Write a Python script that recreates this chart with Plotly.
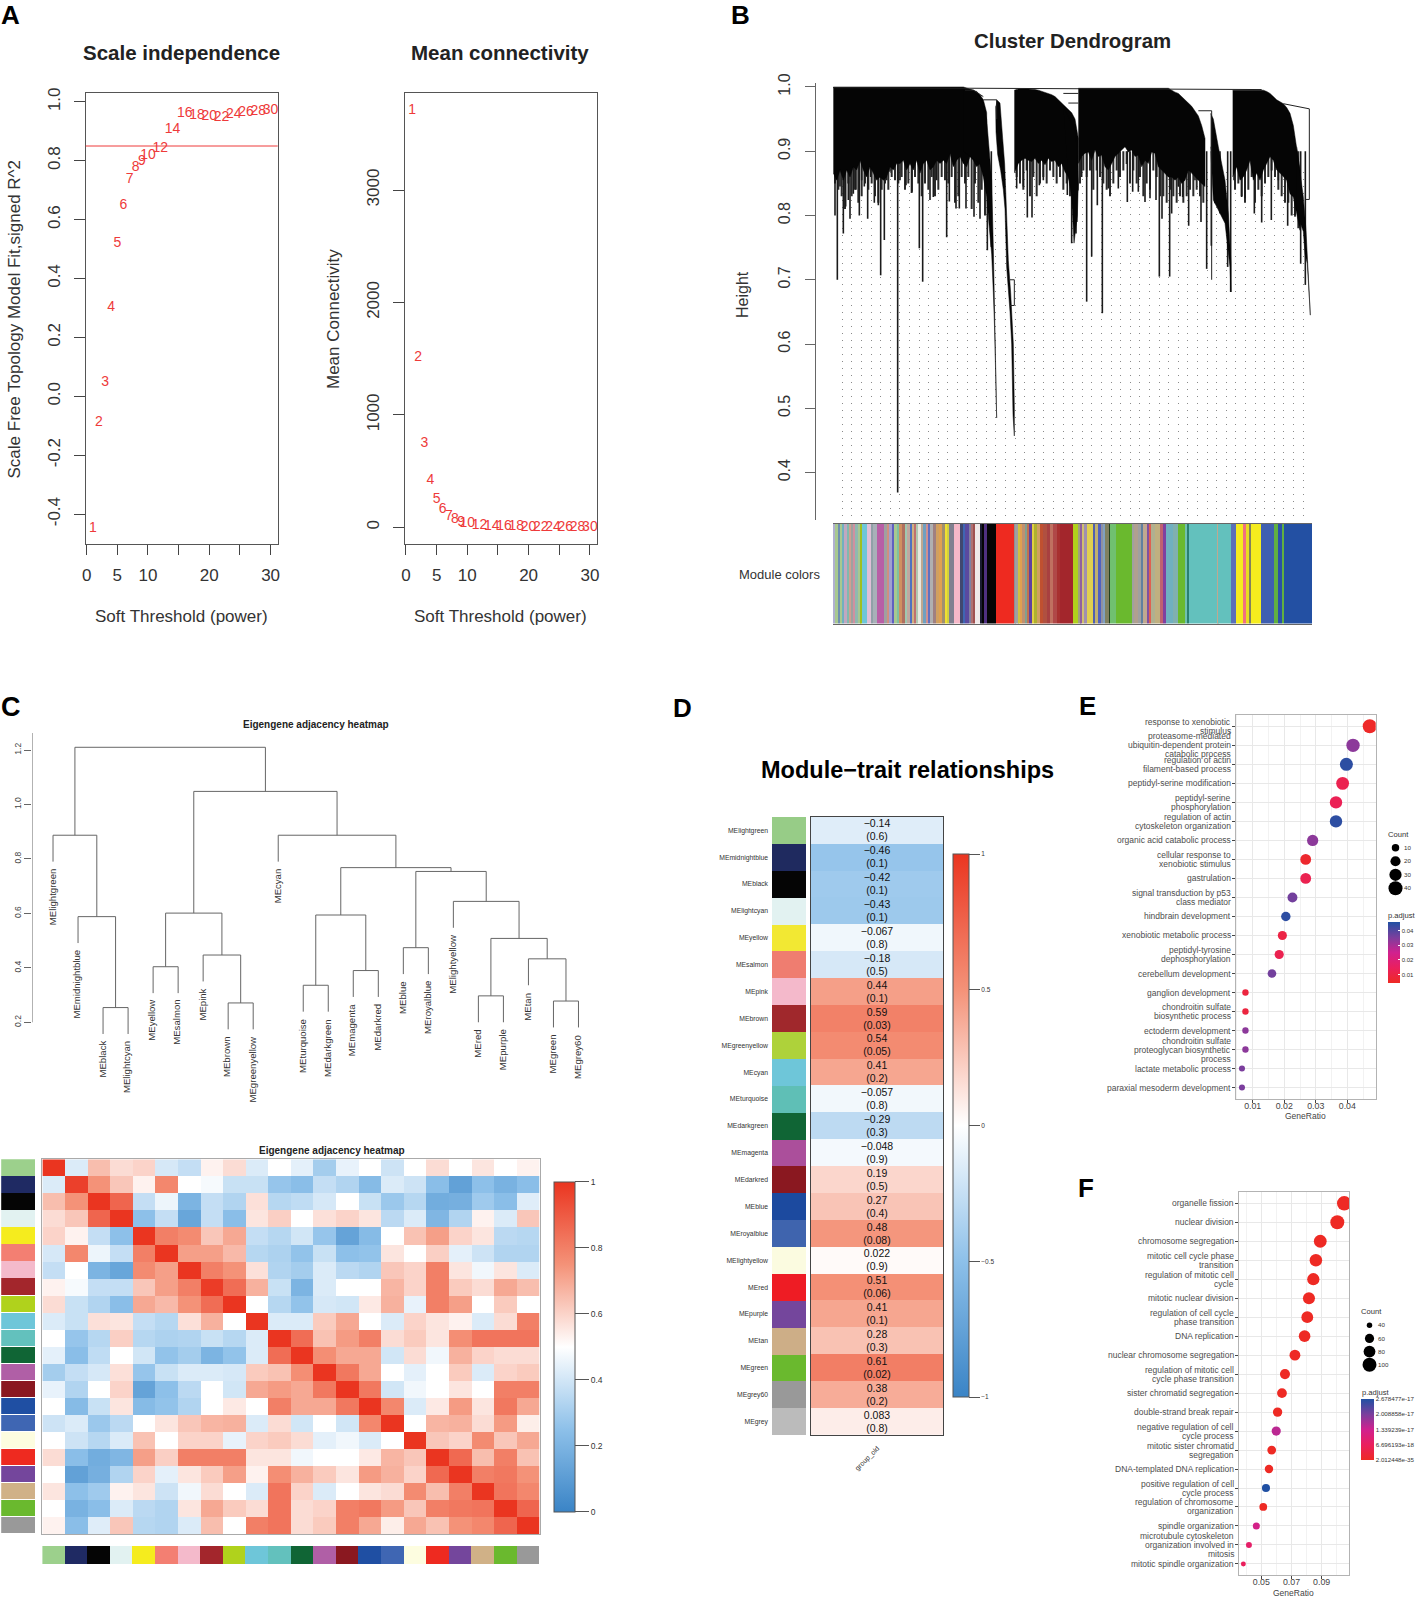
import math
import plotly.graph_objects as go

W, H = 1418, 1598
FONT = "Liberation Sans, Arial, sans-serif"

# ---------- Panel A ----------
powers = [1,2,3,4,5,6,7,8,9,10,12,14,16,18,20,22,24,26,28,30]
sft_fit = [-0.45,-0.09,0.046,0.30,0.52,0.648,0.735,0.777,0.797,0.817,0.842,0.907,0.962,0.953,0.949,0.948,0.956,0.963,0.966,0.969]
mean_conn = [3708,1509,742,413,250,155,96,70,48,33,20,10,6,4,3,2,1.5,1,1,1]
power_ticks = [0,5,10,15,20,25,30]
power_ticktext = ["0","5","10","","20","","30"]

# ---------- Panel B ----------
c1_pos = [10,20,30,40,50,60,70,80,90,100,110,120,130,140,150,160,170,180,190,200,210,220,230,240,250,260,270,280,290,300,310,320,330,340,350,360,370,380,390,400,410,420,430,440,450,460,470]
c1_low = [.866,.855,.871,.855,.871,.860,.876,.871,.886,.871,.860,.876,.866,.855,.860,.855,.860,.876,.871,.881,.881,.886,.871,.881,.871,.886,.866,.881,.886,.871,.876,.886,.881,.886,.881,.897,.876,.886,.892,.881,.876,.892,.886,.876,.881,.866,.845]
c1_top = [1.0]*40 + [.998,.997,.995,.993,.988,.98,.96]
c2_pos = [553,565,575,585,595,605,615,625,635,645,655,665,675,685,695,705,715,725,735,745]
c2_low = [.866,.881,.886,.889,.886,.884,.889,.881,.886,.879,.889,.884,.886,.876,.881,.868,.860,.84,.829,.84]
c2_top = [.995,.997,.997,.997,.997,.997,.996,.995,.994,.992,.99,.988,.985,.98,.975,.97,.965,.96,.95,.92]
c3_pos = [745,755,765,775,785,795,805,815,825,835,845,855,865,875,885,895,905,915,925,935,945,955,965,975,985,995,1005,1015,1025,1035,1045,1055,1065,1075,1085,1095,1105,1115,1125]
c3_low = [.881,.892,.897,.899,.886,.902,.892,.894,.876,.871,.881,.892,.897,.902,.907,.899,.902,.892,.894,.876,.886,.881,.899,.897,.876,.871,.866,.860,.860,.855,.860,.85,.855,.871,.866,.860,.855,.85,.845]
c3_top = [.998]*28 + [.995,.992,.99,.985,.98,.975,.97,.962,.955,.94,.92]
c4_pos = [1208,1220,1230,1240,1250,1260,1270,1280,1290,1300,1310,1320,1330,1340,1350,1360,1370,1380,1390,1400,1410]
c4_low = [.860,.876,.855,.860,.871,.886,.855,.866,.855,.871,.881,.892,.886,.871,.866,.860,.855,.834,.829,.803,.777]
c4_top = [.995]*10 + [.993,.99,.985,.98,.977,.974,.968,.959,.94,.907,.87]
tail1_pos = [400,430,450,462,470,478,485,490,494,497,499,500,500,497,494,490,485,478,470,460,450,400]
tail1_h = [.998,.995,.985,.97,.95,.905,.855,.75,.66,.6,.53,.485,.485,.55,.62,.68,.74,.78,.83,.86,.88,.90]
tail2_pos = [500,510,518,524,530,535,542,550,553,553,549,545,540,530,525,520,512,503,498,497]
tail2_h = [.98,.975,.92,.88,.80,.73,.68,.60,.5,.457,.49,.6,.65,.72,.81,.84,.87,.895,.93,.97]
tail3_pos = [700,720,738,745,742,732,728,725,715]
tail3_h = [.97,.95,.93,.85,.80,.757,.80,.83,.86]
tail4_pos = [1142,1150,1165,1185,1195,1203,1203,1200,1185,1165,1150,1142]
tail4_h = [.959,.95,.907,.855,.803,.725,.681,.72,.788,.808,.824,.907]
tail5_pos = [1400,1410,1420,1428,1435,1440,1441,1436,1432,1425,1420,1410,1400]
tail5_h = [.907,.87,.829,.777,.7,.65,.645,.68,.725,.74,.775,.79,.81]
stem_pos = [15,22,30,40,47,55,60,70,78,88,95,103,113,122,133,145,152,163,170,180,203,210,228,246,268,278,300,310,320,350,358,378,388,408,432,450,472,484,560,580,592,606,628,640,712,725,738,755,770,785,802,817,835,865,892,908,925,945,960,978,988,996,1019,1025,1045,1058,1076,1095,1113,1130,1144,1155,1170,1193,1202,1212,1235,1245,1273,1295,1324,1345,1373,1395,1412,1426]
stem_low = [.80,.70,.845,.772,.814,.824,.795,.834,.84,.80,.855,.845,.795,.86,.82,.816,.707,.762,.855,.868,.369,.855,.847,.837,.749,.697,.824,.829,.855,.766,.822,.811,.811,.811,.798,.795,.746,.751,.842,.845,.797,.797,.847,.855,.832,.757,.772,.86,.666,.736,.816,.648,.842,.842,.821,.837,.837,.821,.827,.824,.705,.795,.705,.803,.845,.829,.784,.855,.79,.717,.753,.819,.803,.72,.681,.855,.829,.827,.803,.789,.793,.855,.784,.798,.725,.692]
fringe1_start, fringe2_start, fringe3_start, fringe4_start = 15, 560, 750, 1215
fringe1_low = [.85,.84,.83,.81,.85,.83,.84,.82,.83,.85,.84,.85,.83,.82,.84,.85,.84,.86,.855,.85,.86,.84,.85,.835,.86,.85,.83,.85,.84,.86,.83,.84,.86,.855,.85,.86,.82,.83,.86,.85,.86,.81,.85,.82,.84,.80]
fringe2_low = [.86,.85,.84,.87,.83,.86,.83,.85,.86,.85,.87,.86,.85,.86,.84,.85,.83,.81,.79]
fringe3_low = [.85,.87,.86,.87,.84,.87,.86,.85,.84,.83,.85,.87,.86,.87,.88,.85,.87,.85,.86,.83,.85,.84,.87,.86,.83,.83,.82,.84,.83,.82,.83,.82,.83,.84,.83,.84,.83,.82]
fringe4_low = [.84,.85,.83,.82,.84,.86,.82,.84,.83,.85,.86,.87,.86,.84,.83,.82,.82,.80,.80,.78]
link_segments_pos = [[9,1295],[405,430,460],[460,500,500],[700,745],[715,745],[1105,1145,1145],[1360,1438,1438,1428],[540,553,553,540]]
link_segments_h = [[.999,.996],[.995,.995,.985],[.98,.98,.95],[.99,.99],[.975,.975],[.963,.963,.70],[.974,.966,.825,.825],[.70,.70,.66,.66]]
strip_ends = [14,24,30,37,43,50,56,63,70,76,84,92,97,112,122,128,140,162,170,178,185,192,200,208,216,224,232,240,246,252,258,264,272,280,288,294,300,310,318,326,336,344,352,358,372,390,398,406,416,422,430,436,450,456,462,471,498,552,556,566,570,576,584,592,598,606,612,620,630,640,650,660,668,680,690,730,745,752,756,762,770,790,796,805,812,820,826,838,840,858,905,912,925,935,940,950,957,963,975,990,1000,1008,1030,1045,1065,1072,1077,1163,1165,1203,1217,1240,1247,1257,1262,1293,1332,1345,1355,1362,1446]
strip_colors = ["#b0b0d0","#a8c890","#6f8fb0","#a8c890","#70b0c0","#c0a8c0","#80b8b0","#d0a090","#a0a0a0","#d090a0","#90b8b0","#a8c890","#a0c020","#6ec6d9","#e0c0d8","#90a0a8","#a8b0b8","#b85fa6","#a0a0a0","#d09080","#a0a0d0","#6060c0","#a8c890","#80c0a0","#d09060","#b07060","#a0c8b0","#c0a8a0","#5070c0","#d0b080","#c07070","#b0c8b0","#e8e8e0","#c0a890","#70a0c0","#d09090","#6070c0","#b0b0b0","#a08080","#d0a060","#e0a050","#a09070","#f0e030","#d0d040","#808090","#f6b8c8","#404870","#3f66b3","#5a4aa0","#8080a0","#b07070","#a05050","#f0e8e8","#1a1a30","#050505","#503080","#050505","#ee2a20","#909090","#a0a0a0","#d0c040","#e0a050","#c09070","#80a090","#c07050","#6040a0","#e0d040","#b0b030","#d0a060","#c05030","#b05040","#a84040","#c07060","#b04848","#a83030","#a3262c","#b0d21c","#a0a080","#9060a0","#d0c070","#a090b0","#e0d050","#5060b0","#c0b070","#5060c0","#9090a0","#80a0c0","#808060","#204020","#70c070","#6ab92e","#a0a0a0","#b0a090","#a0a0a0","#6080a0","#c0a890","#8050a0","#e06050","#b0b090","#c0b080","#c06070","#8040a0","#70b0c0","#80b0b0","#6ab92e","#70c0b0","#2a8070","#63c1bd","#c0a890","#63c1bd","#5a70b8","#f5ec1e","#f07080","#e8dc20","#808060","#f5ec1e","#3f5fb0","#60b040","#2a50a8","#60b040","#2350a3"]

# ---------- Panel C ----------
c_modules = ["MElightgreen","MEmidnightblue","MEblack","MElightcyan","MEyellow","MEsalmon","MEpink","MEbrown","MEgreenyellow","MEcyan","MEturquoise","MEdarkgreen","MEmagenta","MEdarkred","MEblue","MEroyalblue","MElightyellow","MEred","MEpurple","MEtan","MEgreen","MEgrey60"]
c_colors = ["#9cd08c","#1f2a63","#050505","#e2f2f1","#f5ec1e","#f37f72","#f4bacb","#a3262c","#b0d21c","#6ec6d9","#63c1bd","#106535","#b05fa6","#8a1820","#1f4fa3","#3f66b3","#fdfde0","#ee2a20","#74469c","#d0b187","#6ab92e","#999999"]
merge_left = [-3,-2,-1,-5,-8,-7,4,-11,-13,8,-15,-18,-21,-20,12,-17,11,10,-10,7,3]
merge_right = [-4,1,2,-6,-9,5,6,-12,-14,9,-16,-19,-22,13,14,15,16,17,18,19,20]
merge_height = [.254,.588,.887,.404,.271,.447,.601,.336,.390,.594,.474,.297,.278,.433,.508,.644,.754,.768,.887,1.048,1.21]
leaf_drop = 0.097
adj_rows = [
[1,.42,.65,.58,.6,.41,.37,.53,.58,.42,.5,.44,.3,.45,.5,.39,.5,.58,.5,.56,.5,.53],
[.42,.97,.75,.63,.53,.78,.5,.48,.38,.38,.27,.24,.37,.33,.23,.42,.39,.24,.12,.25,.19,.24],
[.65,.75,1,.87,.37,.46,.2,.37,.33,.57,.34,.36,.41,.5,.38,.28,.34,.17,.18,.29,.24,.43],
[.58,.63,.87,1,.25,.37,.14,.37,.24,.56,.61,.5,.57,.6,.56,.35,.42,.21,.33,.53,.42,.63],
[.6,.53,.37,.25,1,.8,.77,.63,.7,.37,.34,.4,.27,.13,.23,.5,.64,.72,.6,.56,.35,.34],
[.41,.78,.46,.37,.8,1,.72,.72,.66,.34,.32,.26,.38,.25,.26,.56,.5,.61,.44,.39,.33,.33],
[.37,.5,.2,.14,.77,.72,1,.8,.75,.57,.33,.3,.42,.35,.33,.63,.6,.8,.56,.47,.56,.42],
[.53,.48,.37,.37,.63,.72,.8,.98,.85,.68,.38,.2,.42,.5,.5,.67,.6,.8,.62,.58,.7,.65],
[.58,.38,.33,.24,.7,.66,.75,.85,1,.5,.34,.26,.41,.4,.55,.68,.45,.8,.72,.5,.62,.5],
[.42,.38,.57,.56,.37,.34,.57,.68,.5,1,.42,.42,.62,.7,.5,.42,.6,.56,.53,.42,.58,.8],
[.5,.27,.34,.61,.34,.32,.33,.38,.34,.42,1,.85,.64,.73,.8,.58,.62,.56,.76,.83,.83,.83],
[.44,.24,.36,.5,.4,.26,.3,.2,.26,.42,.85,1,.76,.7,.7,.4,.58,.47,.68,.6,.58,.58],
[.3,.37,.41,.57,.27,.38,.42,.42,.41,.62,.64,.76,1,.82,.7,.5,.44,.5,.62,.42,.6,.62],
[.45,.33,.5,.6,.13,.25,.35,.5,.4,.7,.73,.7,.82,1,.82,.4,.47,.5,.56,.5,.8,.8],
[.5,.23,.38,.56,.23,.26,.33,.5,.55,.5,.8,.7,.7,.82,1,.78,.42,.55,.73,.56,.82,.7],
[.39,.42,.28,.35,.5,.56,.63,.67,.68,.42,.58,.4,.5,.4,.78,1,.5,.67,.68,.58,.73,.54],
[.5,.39,.34,.42,.64,.5,.6,.6,.45,.6,.62,.58,.44,.47,.42,.5,1,.63,.6,.77,.63,.7],
[.58,.24,.17,.21,.72,.61,.8,.8,.8,.56,.56,.47,.5,.5,.55,.67,.63,1,.86,.65,.8,.64],
[.5,.12,.18,.33,.6,.44,.56,.62,.72,.53,.76,.68,.62,.56,.73,.68,.6,.86,1,.8,.82,.75],
[.56,.25,.29,.53,.56,.39,.47,.58,.5,.42,.83,.6,.42,.5,.56,.58,.77,.65,.8,1,.83,.78],
[.5,.19,.24,.42,.35,.33,.56,.7,.62,.58,.83,.58,.6,.8,.82,.73,.63,.8,.82,.83,1,.87],
[.53,.24,.43,.63,.34,.33,.42,.65,.5,.8,.83,.58,.62,.8,.7,.54,.7,.64,.75,.78,.87,1],
]

# ---------- Panel D ----------
d_modules = c_modules + ["MEgrey"]
d_colors = ["#97cc87","#1f2a5f","#050505","#e2f2f1","#f2e833","#ef7d70","#f4b9cb","#a0282c","#aed23a","#6ec6d9","#5fbfb6","#106535","#ab4f9b","#8a1820","#1c4a9f","#3f64ae","#fbfbe0","#ee1c24","#74469c","#cdae87","#6ab92e","#999999","#bbbbbb"]
trait_values = [-0.14,-0.46,-0.42,-0.43,-0.067,-0.18,0.44,0.59,0.54,0.41,-0.057,-0.29,-0.048,0.19,0.27,0.48,0.022,0.51,0.41,0.28,0.61,0.38,0.083]
trait_pvalues = ["0.6","0.1","0.1","0.1","0.8","0.5","0.1","0.03","0.05","0.2","0.8","0.3","0.9","0.5","0.4","0.08","0.9","0.06","0.1","0.3","0.02","0.2","0.8"]

# ---------- Panel E ----------
e_terms = ["response to xenobiotic\nstimulus","proteasome-mediated\nubiquitin-dependent protein\ncatabolic process","regulation of actin\nfilament-based process","peptidyl-serine modification","peptidyl-serine\nphosphorylation","regulation of actin\ncytoskeleton organization","organic acid catabolic process","cellular response to\nxenobiotic stimulus","gastrulation","signal transduction by p53\nclass mediator","hindbrain development","xenobiotic metabolic process","peptidyl-tyrosine\ndephosphorylation","cerebellum development","ganglion development","chondroitin sulfate\nbiosynthetic process","ectoderm development","chondroitin sulfate\nproteoglycan biosynthetic\nprocess","lactate metabolic process","paraxial mesoderm development"]
e_ratio = [.0471,.0418,.0397,.0385,.0364,.0364,.029,.0268,.0268,.0226,.0205,.0194,.0184,.0161,.0077,.0077,.0077,.0077,.0066,.0066]
e_count = [40,36,34,33,31,31,25,23,23,19,17,16,16,14,7,7,7,7,6,6]
e_padj = [.005,.033,.044,.012,.013,.044,.033,.006,.012,.036,.044,.01,.012,.036,.009,.009,.033,.033,.035,.035]
e_legend_counts = [10,20,30,40]
e_cbar_ticks = [.01,.02,.03,.04]

# ---------- Panel F ----------
f_terms = ["organelle fission","nuclear division","chromosome segregation","mitotic cell cycle phase\ntransition","regulation of mitotic cell\ncycle","mitotic nuclear division","regulation of cell cycle\nphase transition","DNA replication","nuclear chromosome segregation","regulation of mitotic cell\ncycle phase transition","sister chromatid segregation","double-strand break repair","negative regulation of cell\ncycle process","mitotic sister chromatid\nsegregation","DNA-templated DNA replication","positive regulation of cell\ncycle process","regulation of chromosome\norganization","spindle organization","microtubule cytoskeleton\norganization involved in\nmitosis","mitotic spindle organization"]
f_ratio = [.105,.1004,.0891,.0862,.0845,.0816,.0805,.0787,.0723,.0657,.0637,.0608,.0599,.0569,.0551,.0531,.0513,.0467,.0418,.0381]
f_count = [105,100,89,86,84,82,80,78,72,66,64,61,60,57,55,53,51,47,42,38]
f_padj = [2e-35,2e-35,2e-35,2e-35,2e-35,2e-35,2e-35,2e-35,1e-30,1e-30,1e-28,1e-25,1.5e-17,1e-24,1e-22,2.678e-17,1e-21,1.25e-17,8e-18,6.5e-18]
f_legend_counts = [40,60,80,100]
f_cbar_vals = [2.678477e-17,2.008858e-17,1.339239e-17,6.696193e-18,2.012448e-35]
f_cbar_text = ["2.678477e-17","2.008858e-17","1.339239e-17","6.696193e-18","2.012448e-35"]

# ---------- helpers ----------
def dx(a, b): return [a / W, b / W]
def dy(top, bottom): return [1 - bottom / H, 1 - top / H]
BWR = [[0,"#3a84c6"],[.25,"#8dc0e9"],[.5,"#ffffff"],[.75,"#f49278"],[1,"#ea3520"]]
PADJ = [[0,"#ee2a24"],[.25,"#ea1f5e"],[.5,"#d0218f"],[.75,"#7a3f9d"],[1,"#2050a3"]]
annotations = []
def txt(px, py, s, size, bold=False, angle=0, color="#222222", xa="center", ya="middle"):
    annotations.append(dict(x=px / W, y=1 - py / H, xref="paper", yref="paper", text=f"<b>{s}</b>" if bold else s,
        showarrow=False, font=dict(size=size, color=color, family=FONT), textangle=angle, xanchor=xa, yanchor=ya, borderpad=0, borderwidth=0))

fig = go.Figure()
layout = dict(width=W, height=H, margin=dict(l=0, r=0, t=0, b=0, autoexpand=False), paper_bgcolor="white", plot_bgcolor="rgba(255,255,255,0)",
              showlegend=False, font=dict(family=FONT, color="#222222"), bargap=0, barmode="overlay")

# A
for n, vals, yr, yt, xl, xr in [("", sft_fit, [-0.50, 1.03], [-0.4,-0.2,0,0.2,0.4,0.6,0.8,1.0], 85.7, 277.7),
                                ("2", mean_conn, [-144, 3863], [0,1000,2000,3000], 405, 597)]:
    fig.add_trace(go.Scatter(x=powers, y=vals, mode="text", text=[str(p) for p in powers],
                             textfont=dict(size=14, color="#ee3a3a", family=FONT), xaxis="x"+n, yaxis="y"+n, cliponaxis=False))
    layout["xaxis"+n] = dict(domain=dx(xl, xr), range=[-0.16, 31.16], tickvals=power_ticks, ticktext=power_ticktext, ticks="outside", ticklen=10,
                             tickcolor="#444", showgrid=False, zeroline=False, showline=True, mirror=True, linecolor="#555", tickfont=dict(size=17, color="#333"), anchor="y"+n, ticklabelstandoff=6)
    tt = [f"{v:.1f}" for v in yt] if n == "" else [str(v) for v in yt]
    layout["yaxis"+n] = dict(domain=dy(93, 543.6), range=yr, tickvals=yt, ticktext=tt, tickangle=-90, ticks="outside", ticklen=11,
                             tickcolor="#444", showgrid=False, zeroline=False, showline=True, mirror=True, linecolor="#555", tickfont=dict(size=17, color="#333"), anchor="x"+n, ticklabelstandoff=7)
layout["shapes"] = [dict(type="line", xref="x domain", yref="y", x0=0, x1=1, y0=0.85, y1=0.85, line=dict(color="#ee3a3a", width=1))]

# B: guide dots live on their own lower axis pair, the tree on x15/y15 above it
fig.add_trace(go.Scatter(x=[None], y=[None], mode="markers", xaxis="x3", yaxis="y3"))
layout["xaxis3"] = dict(domain=dx(833, 1312), range=[9, 1446], showticklabels=False, ticks="", zeroline=False, showline=False, showgrid=True,
                        tick0=37, dtick=28.8, gridcolor="#8a8a8a", griddash="1px,6px", gridwidth=1, anchor="y3")
layout["yaxis3"] = dict(domain=dy(172, 519.5), range=[0, 1], visible=False, showgrid=False, anchor="x3")
fx, fy = [], []
for start, lows in [(fringe1_start, fringe1_low), (fringe2_start, fringe2_low), (fringe3_start, fringe3_low), (fringe4_start, fringe4_low)]:
    for i, l in enumerate(lows):
        fx += [start + 10 * i, start + 10 * i, None]; fy += [.90, l, None]
fig.add_trace(go.Scatter(x=fx, y=fy, mode="lines", line=dict(color="#2a2a2a", width=2), xaxis="x15", yaxis="y15"))
sx, sy = [], []
for p, l in zip(stem_pos, stem_low):
    sx += [p, p, None]; sy += [.90, l, None]
fig.add_trace(go.Scatter(x=sx, y=sy, mode="lines", line=dict(color="#1a1a1a", width=1.6), xaxis="x15", yaxis="y15"))
for xs, ys in [(c1_pos + c1_pos[::-1], c1_low + c1_top[::-1]), (c2_pos + c2_pos[::-1], c2_low + c2_top[::-1]),
               (c3_pos + c3_pos[::-1], c3_low + c3_top[::-1]), (c4_pos + c4_pos[::-1], c4_low + c4_top[::-1]),
               (tail1_pos, tail1_h), (tail2_pos, tail2_h), (tail3_pos, tail3_h), (tail4_pos, tail4_h), (tail5_pos, tail5_h)]:
    fig.add_trace(go.Scatter(x=xs, y=ys, mode="lines", fill="toself", fillcolor="#050505", line=dict(color="#050505", width=0.5), xaxis="x15", yaxis="y15"))
lx, ly = [], []
for a, b in zip(link_segments_pos, link_segments_h):
    lx += a + [None]; ly += b + [None]
fig.add_trace(go.Scatter(x=lx, y=ly, mode="lines", line=dict(color="#222", width=1), xaxis="x15", yaxis="y15"))
layout["xaxis15"] = dict(domain=dx(833, 1312), range=[9, 1446], showticklabels=False, ticks="", zeroline=False, showline=False, showgrid=False, anchor="y15")
layout["yaxis15"] = dict(domain=dy(83, 519.5), range=[.327, 1.0062], tickvals=[.4,.5,.6,.7,.8,.9,1.0], ticktext=["0.4","0.5","0.6","0.7","0.8","0.9","1.0"], tickangle=-90,
                        ticks="outside", ticklen=10, tickcolor="#666", showgrid=False, zeroline=False, showline=True, linecolor="#666", tickfont=dict(size=16, color="#333"),
                        anchor="free", position=814.7 / W, ticklabelstandoff=8)
starts = [9] + strip_ends[:-1]
fig.add_trace(go.Bar(y=["s"] * len(strip_ends), x=[e - s for s, e in zip(starts, strip_ends)], base=starts, orientation="h", width=1,
                     marker=dict(color=strip_colors, line=dict(width=0)), xaxis="x4", yaxis="y4"))
layout["xaxis4"] = dict(domain=dx(833, 1312), range=[9, 1446], visible=True, showticklabels=False, ticks="", showgrid=False, zeroline=False, showline=True, mirror=True, linecolor="#666", anchor="y4")
layout["yaxis4"] = dict(domain=dy(523.6, 623.6), type="category", showticklabels=False, ticks="", showgrid=False, zeroline=False, anchor="x4", range=[-.5, .5])

# C dendrogram
pos, hts = {}, {}
dx_list, dy_list = [], []
for i, (l, r, h) in enumerate(zip(merge_left, merge_right, merge_height), start=1):
    xy = []
    for node in (l, r):
        if node < 0:
            idx = -node - 1
            xy.append((idx, h - leaf_drop))
            annotations.append(dict(x=idx, y=h - leaf_drop, xref="x5", yref="y5", text=c_modules[idx], showarrow=False, textangle=-90,
                                    xanchor="center", yanchor="top", yshift=-6, xshift=-1, font=dict(size=9.6, color="#333", family=FONT), borderpad=0))
        else:
            xy.append((pos[node], hts[node]))
    dx_list += [xy[0][0], xy[0][0], xy[1][0], xy[1][0], None]
    dy_list += [xy[0][1], h, h, xy[1][1], None]
    pos[i] = (xy[0][0] + xy[1][0]) / 2; hts[i] = h
fig.add_trace(go.Scatter(x=dx_list, y=dy_list, mode="lines", line=dict(color="#666", width=1), xaxis="x5", yaxis="y5"))
fig.add_trace(go.Scatter(x=[-0.84, -0.84], y=[.2, 1.2625], mode="lines", line=dict(color="#666", width=1), xaxis="x5", yaxis="y5"))
layout["xaxis5"] = dict(domain=dx(32, 600), range=[-0.84, 21.86], visible=False)
layout["yaxis5"] = dict(domain=dy(733, 1049.5), range=[.1, 1.2625], tickvals=[.2,.4,.6,.8,1.0,1.2], ticktext=["0.2","0.4","0.6","0.8","1.0","1.2"], tickangle=-90, ticks="outside", ticklen=7,
                        tickcolor="#666", showgrid=False, zeroline=False, showline=False, tickfont=dict(size=8.5, color="#444"), anchor="x5")

# C heatmap
fig.add_trace(go.Heatmap(z=adj_rows, x=c_modules, y=c_modules, zmin=0, zmax=1, colorscale=BWR, xaxis="x6", yaxis="y6",
    colorbar=dict(x=553.9 / W, xanchor="left", xpad=0, ypad=0, y=1 - 1181.7 / H, yanchor="top", lenmode="pixels", len=330, thicknessmode="pixels", thickness=20.8,
                  tickvals=[0,.2,.4,.6,.8,1], ticktext=["0","0.2","0.4","0.6","0.8","1"], ticks="outside", ticklen=14, tickcolor="#555", outlinecolor="#555", outlinewidth=1, tickfont=dict(size=8.5, color="#333"))))
layout["xaxis6"] = dict(domain=dx(42.4, 539.6), showticklabels=False, ticks="", showgrid=False, zeroline=False, showline=True, mirror=True, linecolor="#aaa", anchor="y6", type="category")
layout["yaxis6"] = dict(domain=dy(1159.3, 1534), autorange="reversed", showticklabels=False, ticks="", showgrid=False, zeroline=False, showline=True, mirror=True, linecolor="#aaa", anchor="x6", type="category")
fig.add_trace(go.Bar(y=c_modules, x=[1] * 22, orientation="h", width=0.97, marker=dict(color=c_colors, line=dict(width=0)), xaxis="x7", yaxis="y7"))
layout["xaxis7"] = dict(domain=dx(1.2, 35.5), range=[0, 1], visible=False)
layout["yaxis7"] = dict(domain=dy(1159.3, 1534), autorange="reversed", visible=False, type="category", anchor="x7")
fig.add_trace(go.Bar(x=c_modules, y=[1] * 22, width=1, marker=dict(color=c_colors, line=dict(width=0)), xaxis="x8", yaxis="y8"))
layout["xaxis8"] = dict(domain=dx(42.4, 539.6), visible=False, type="category", anchor="y8")
layout["yaxis8"] = dict(domain=dy(1546, 1564.3), range=[0, 1], visible=False, anchor="x8")

# D
fig.add_trace(go.Bar(y=d_modules, x=[1] * 23, orientation="h", width=1, marker=dict(color=d_colors, line=dict(width=0)), xaxis="x9", yaxis="y9"))
layout["xaxis9"] = dict(domain=dx(772, 806), range=[0, 1], showticklabels=False, ticks="", showgrid=False, zeroline=False, anchor="y9")
layout["yaxis9"] = dict(domain=dy(816.8, 1435), autorange="reversed", type="category", ticks="", showgrid=False, zeroline=False, tickfont=dict(size=6.8, color="#333"), anchor="x9", ticklabelstandoff=3)
cell_text = [f"{str(v).replace('-', '−')}<br>({p})" for v, p in zip(trait_values, trait_pvalues)]
fig.add_trace(go.Heatmap(z=[[v] for v in trait_values], x=["group_old"], y=d_modules, text=[[t] for t in cell_text], texttemplate="%{text}",
    textfont=dict(size=10.5, color="#111", family=FONT), zmin=-1, zmax=1, colorscale=BWR, xaxis="x10", yaxis="y10",
    colorbar=dict(x=953.3 / W, xanchor="left", xpad=0, ypad=0, y=1 - 854 / H, yanchor="top", lenmode="pixels", len=543, thicknessmode="pixels", thickness=15.7,
                  tickvals=[-1,-.5,0,.5,1], ticktext=["−1","−0.5","0","0.5","1"], ticks="outside", ticklen=11, tickcolor="#555", outlinecolor="#555", outlinewidth=1, tickfont=dict(size=6.5, color="#333"))))
layout["xaxis10"] = dict(domain=dx(811, 943.3), showticklabels=False, ticks="", showgrid=False, zeroline=False, showline=True, mirror=True, linecolor="#444", linewidth=1, anchor="y10", type="category")
layout["yaxis10"] = dict(domain=dy(816.8, 1435), autorange="reversed", showticklabels=False, ticks="", showgrid=False, zeroline=False, showline=True, mirror=True, linecolor="#444", linewidth=1, anchor="x10", type="category")

# E and F
def dotplot(n, ratio, count, padj, terms, xdom, ydom, xr, yr, xticks, xtext, cmin, cmax, sizefn, cbar, labx):
    fig.add_trace(go.Scatter(x=ratio, y=list(range(len(ratio))), mode="markers", xaxis="x"+n, yaxis="y"+n,
        marker=dict(size=[sizefn(c) for c in count], sizemode="diameter", opacity=1, color=padj, cmin=cmin, cmax=cmax, colorscale=PADJ, colorbar=cbar, line=dict(width=0))))
    layout["xaxis"+n] = dict(domain=xdom, range=xr, tickvals=xticks, ticktext=xtext, ticks="outside", ticklen=3, tickcolor="#444", showgrid=True, gridcolor="#e8e8e8", gridwidth=1,
                             zeroline=False, showline=True, mirror=True, linecolor="#b3b3b3", tickfont=dict(size=8.8, color="#444"), anchor="y"+n, ticklabelstandoff=-5,
                             minor=dict(dtick=(xticks[1]-xticks[0])/2, tick0=xticks[0]-(xticks[1]-xticks[0])/2, showgrid=True, gridcolor="#f2f2f2", gridwidth=1))
    layout["yaxis"+n] = dict(domain=ydom, range=yr, tickvals=list(range(len(ratio))), ticktext=[""] * len(ratio), ticks="outside", ticklen=3, tickcolor="#444", showgrid=True, gridcolor="#e8e8e8", gridwidth=1,
                             zeroline=False, showline=True, mirror=True, linecolor="#b3b3b3", anchor="x"+n)
    for i, t in enumerate(terms):
        lines = t.split("\n")
        for j, s in enumerate(lines):
            annotations.append(dict(x=labx / W, y=i, xref="paper", yref="y"+n, text=s, showarrow=False, xanchor="right", yanchor="middle",
                                    yshift=((len(lines) - 1) / 2 - j) * 9, font=dict(size=8.5, color="#4d4d4d", family=FONT), borderpad=0))

def size_e(c): return 1.1 * math.sqrt(3.9 * c + 7)
def size_f(c): return 1.1 * math.sqrt(2.27 * c - 66)

dotplot("11", e_ratio, e_count, e_padj, e_terms, dx(1235.7, 1375.7), dy(715.3, 1099), [.00461, .04899], [19.6, -.58], [.01,.02,.03,.04], ["0.01","0.02","0.03","0.04"], .0042, .0455, size_e,
        dict(x=1388.3 / W, xanchor="left", xpad=0, ypad=0, y=1 - 922.3 / H, yanchor="top", lenmode="pixels", len=61, thicknessmode="pixels", thickness=11.7,
             tickvals=e_cbar_ticks, ticktext=["0.01","0.02","0.03","0.04"], ticks="inside", ticklen=2, tickcolor="white", outlinewidth=0, tickfont=dict(size=6, color="#333")), 1231.7)
dotplot("12", f_ratio, f_count, f_padj, f_terms, dx(1238.7, 1349.3), dy(1192.3, 1575.3), [.03501, .10836], [19.6, -.58], [.05,.07,.09], ["0.05","0.07","0.09"], 2.012448e-35, 2.678477e-17, size_f,
        dict(x=1361.3 / W, xanchor="left", xpad=0, ypad=0, y=1 - 1399 / H, yanchor="top", lenmode="pixels", len=60.7, thicknessmode="pixels", thickness=12.7,
             tickvals=f_cbar_vals, ticktext=f_cbar_text, ticks="", outlinewidth=0, tickfont=dict(size=6.2, color="#333")), 1234.7)

# dot-size legends
for n, vals, fn, xd, yd, yr in [("13", e_legend_counts, size_e, dx(1388, 1403), dy(840, 896), [45.7, 4.3]),
                                ("14", f_legend_counts, size_f, dx(1362, 1377), dy(1318, 1372), [111.1, 28.9])]:
    fig.add_trace(go.Scatter(x=[0] * 4, y=vals, mode="markers", marker=dict(size=[fn(v) for v in vals], opacity=1, color="black", line=dict(width=0)), xaxis="x"+n, yaxis="y"+n))
    layout["xaxis"+n] = dict(domain=xd, range=[-1, 1], visible=False, anchor="y"+n)
    layout["yaxis"+n] = dict(domain=yd, range=yr, tickvals=vals, ticktext=[str(v) for v in vals], side="right", ticks="", showgrid=False, zeroline=False, showline=False,
                             tickfont=dict(size=6.2, color="#333"), anchor="x"+n)

# text
txt(10, 15, "A", 26, True, color="black"); txt(740, 15, "B", 26, True, color="black")
txt(11, 707, "C", 27, True, color="black"); txt(682, 708, "D", 26, True, color="black")
txt(1087, 706, "E", 26, True, color="black"); txt(1086, 1188, "F", 26, True, color="black")
txt(181, 52, "Scale independence", 20.5, True); txt(500.4, 52, "Mean connectivity", 20.5, True)
txt(181, 616.6, "Soft Threshold (power)", 17, color="#333"); txt(500.4, 616.6, "Soft Threshold (power)", 17, color="#333")
txt(13.5, 319, "Scale Free Topology Model Fit,signed R^2", 17, angle=-90, color="#333")
txt(333, 319, "Mean Connectivity", 17, angle=-90, color="#333")
txt(1072.5, 40.7, "Cluster Dendrogram", 20.4, True)
txt(742, 295, "Height", 16, angle=-90, color="#333"); txt(779, 574, "Module colors", 13, color="#333")
txt(315.5, 724, "Eigengene adjacency heatmap", 10, True); txt(332, 1150, "Eigengene adjacency heatmap", 10, True)
txt(907, 769.6, "Module−trait relationships", 23.5, True, color="black")
txt(867, 1459, "group_old", 7, angle=-45, color="#333")
txt(1305.7, 1116, "GeneRatio", 8.5, color="#444"); txt(1293.7, 1592.7, "GeneRatio", 8.5, color="#444")
txt(1398, 834, "Count", 7.6, color="#333"); txt(1401.6, 915.7, "p.adjust", 7.6, color="#333")
txt(1371.7, 1311.7, "Count", 7.6, color="#333"); txt(1375, 1392, "p.adjust", 7.6, color="#333")

layout["annotations"] = annotations
fig.update_layout(**layout)
fig.write_html("out.html", config={"displayModeBar": False}, post_script="document.body.style.margin='0';")
